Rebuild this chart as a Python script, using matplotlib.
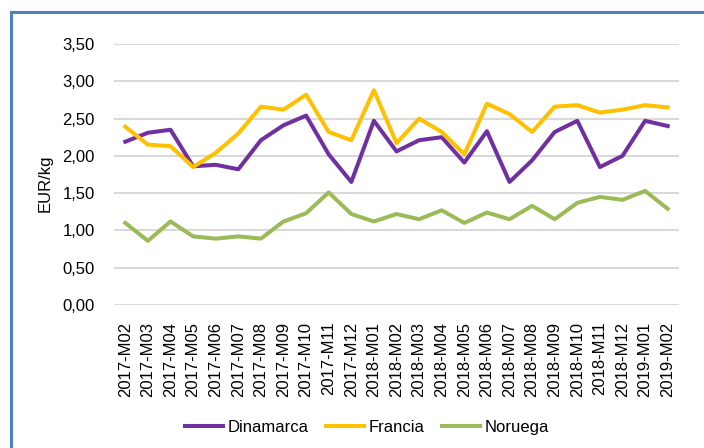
import matplotlib
matplotlib.use("Agg")
import matplotlib.pyplot as plt
from matplotlib.lines import Line2D
from matplotlib.ticker import FuncFormatter, MultipleLocator

plt.rcParams['font.family'] = ['Liberation Sans', 'DejaVu Sans']

meses = ["2017-M02", "2017-M03", "2017-M04", "2017-M05", "2017-M06", "2017-M07",
         "2017-M08", "2017-M09", "2017-M10", "2017-M11", "2017-M12", "2018-M01",
         "2018-M02", "2018-M03", "2018-M04", "2018-M05", "2018-M06", "2018-M07",
         "2018-M08", "2018-M09", "2018-M10", "2018-M11", "2018-M12", "2019-M01",
         "2019-M02"]
dinamarca = [2.19, 2.31, 2.35, 1.86, 1.88, 1.82, 2.21, 2.41, 2.54, 2.02, 1.65, 2.47,
             2.06, 2.21, 2.25, 1.91, 2.33, 1.65, 1.94, 2.32, 2.47, 1.85, 2.00, 2.47, 2.40]
francia = [2.39, 2.15, 2.13, 1.85, 2.04, 2.30, 2.66, 2.62, 2.82, 2.32, 2.21, 2.88,
           2.17, 2.50, 2.32, 2.02, 2.70, 2.56, 2.32, 2.66, 2.68, 2.58, 2.62, 2.68, 2.65]
noruega = [1.10, 0.86, 1.12, 0.92, 0.89, 0.92, 0.89, 1.12, 1.23, 1.51, 1.22, 1.12,
           1.22, 1.15, 1.27, 1.10, 1.24, 1.15, 1.33, 1.15, 1.37, 1.45, 1.41, 1.53, 1.29]

W, H = 704, 448
fig = plt.figure(figsize=(W / 100, H / 100), dpi=100)
ax = fig.add_axes([114 / W, 1 - 305 / H, (679 - 114) / W, (305 - 44) / H])

x = range(len(meses))
ax.plot(x, dinamarca, color="#7030a0", lw=2.9, label="Dinamarca", solid_joinstyle="round")
ax.plot(x, francia, color="#ffc000", lw=2.9, label="Francia", solid_joinstyle="round")
ax.plot(x, noruega, color="#9bbb59", lw=2.9, label="Noruega", solid_joinstyle="round")

ax.set_xlim(-0.5, len(meses) - 0.5)
ax.set_ylim(0, 3.5)
ax.yaxis.set_major_locator(MultipleLocator(0.5))
ax.yaxis.set_major_formatter(FuncFormatter(lambda v, p: f"{v:.2f}".replace(".", ",")))
ax.set_xticks(list(x))
ax.set_xticklabels(meses, rotation=90, fontsize=12)
ax.tick_params(axis="y", labelsize=12, length=0, pad=14)
ax.tick_params(axis="x", length=0, pad=12)
ax.grid(axis="y", color="#d9d9d9", lw=1.5)
ax.set_axisbelow(True)
for s in ax.spines.values():
    s.set_visible(False)

fig.text(45 / W, 1 - 183 / H, "EUR/kg", rotation=90, fontsize=12, ha="center", va="center")

fig.legend(loc="center", bbox_to_anchor=(367 / W, 1 - 427 / H), ncol=3, frameon=False,
           fontsize=12, handlelength=2.3, columnspacing=1.0, handletextpad=0.3)

# marco azul
fig.add_artist(Line2D([10.5 / W, 10.5 / W], [0, 1 - 12.5 / H], color="#4f81bd", lw=2.2,
                      transform=fig.transFigure))
fig.add_artist(Line2D([10.5 / W, 1], [1 - 12.5 / H, 1 - 12.5 / H], color="#4f81bd", lw=2.2,
                      transform=fig.transFigure, solid_capstyle="projecting"))

fig.savefig("out.png", dpi=100)
